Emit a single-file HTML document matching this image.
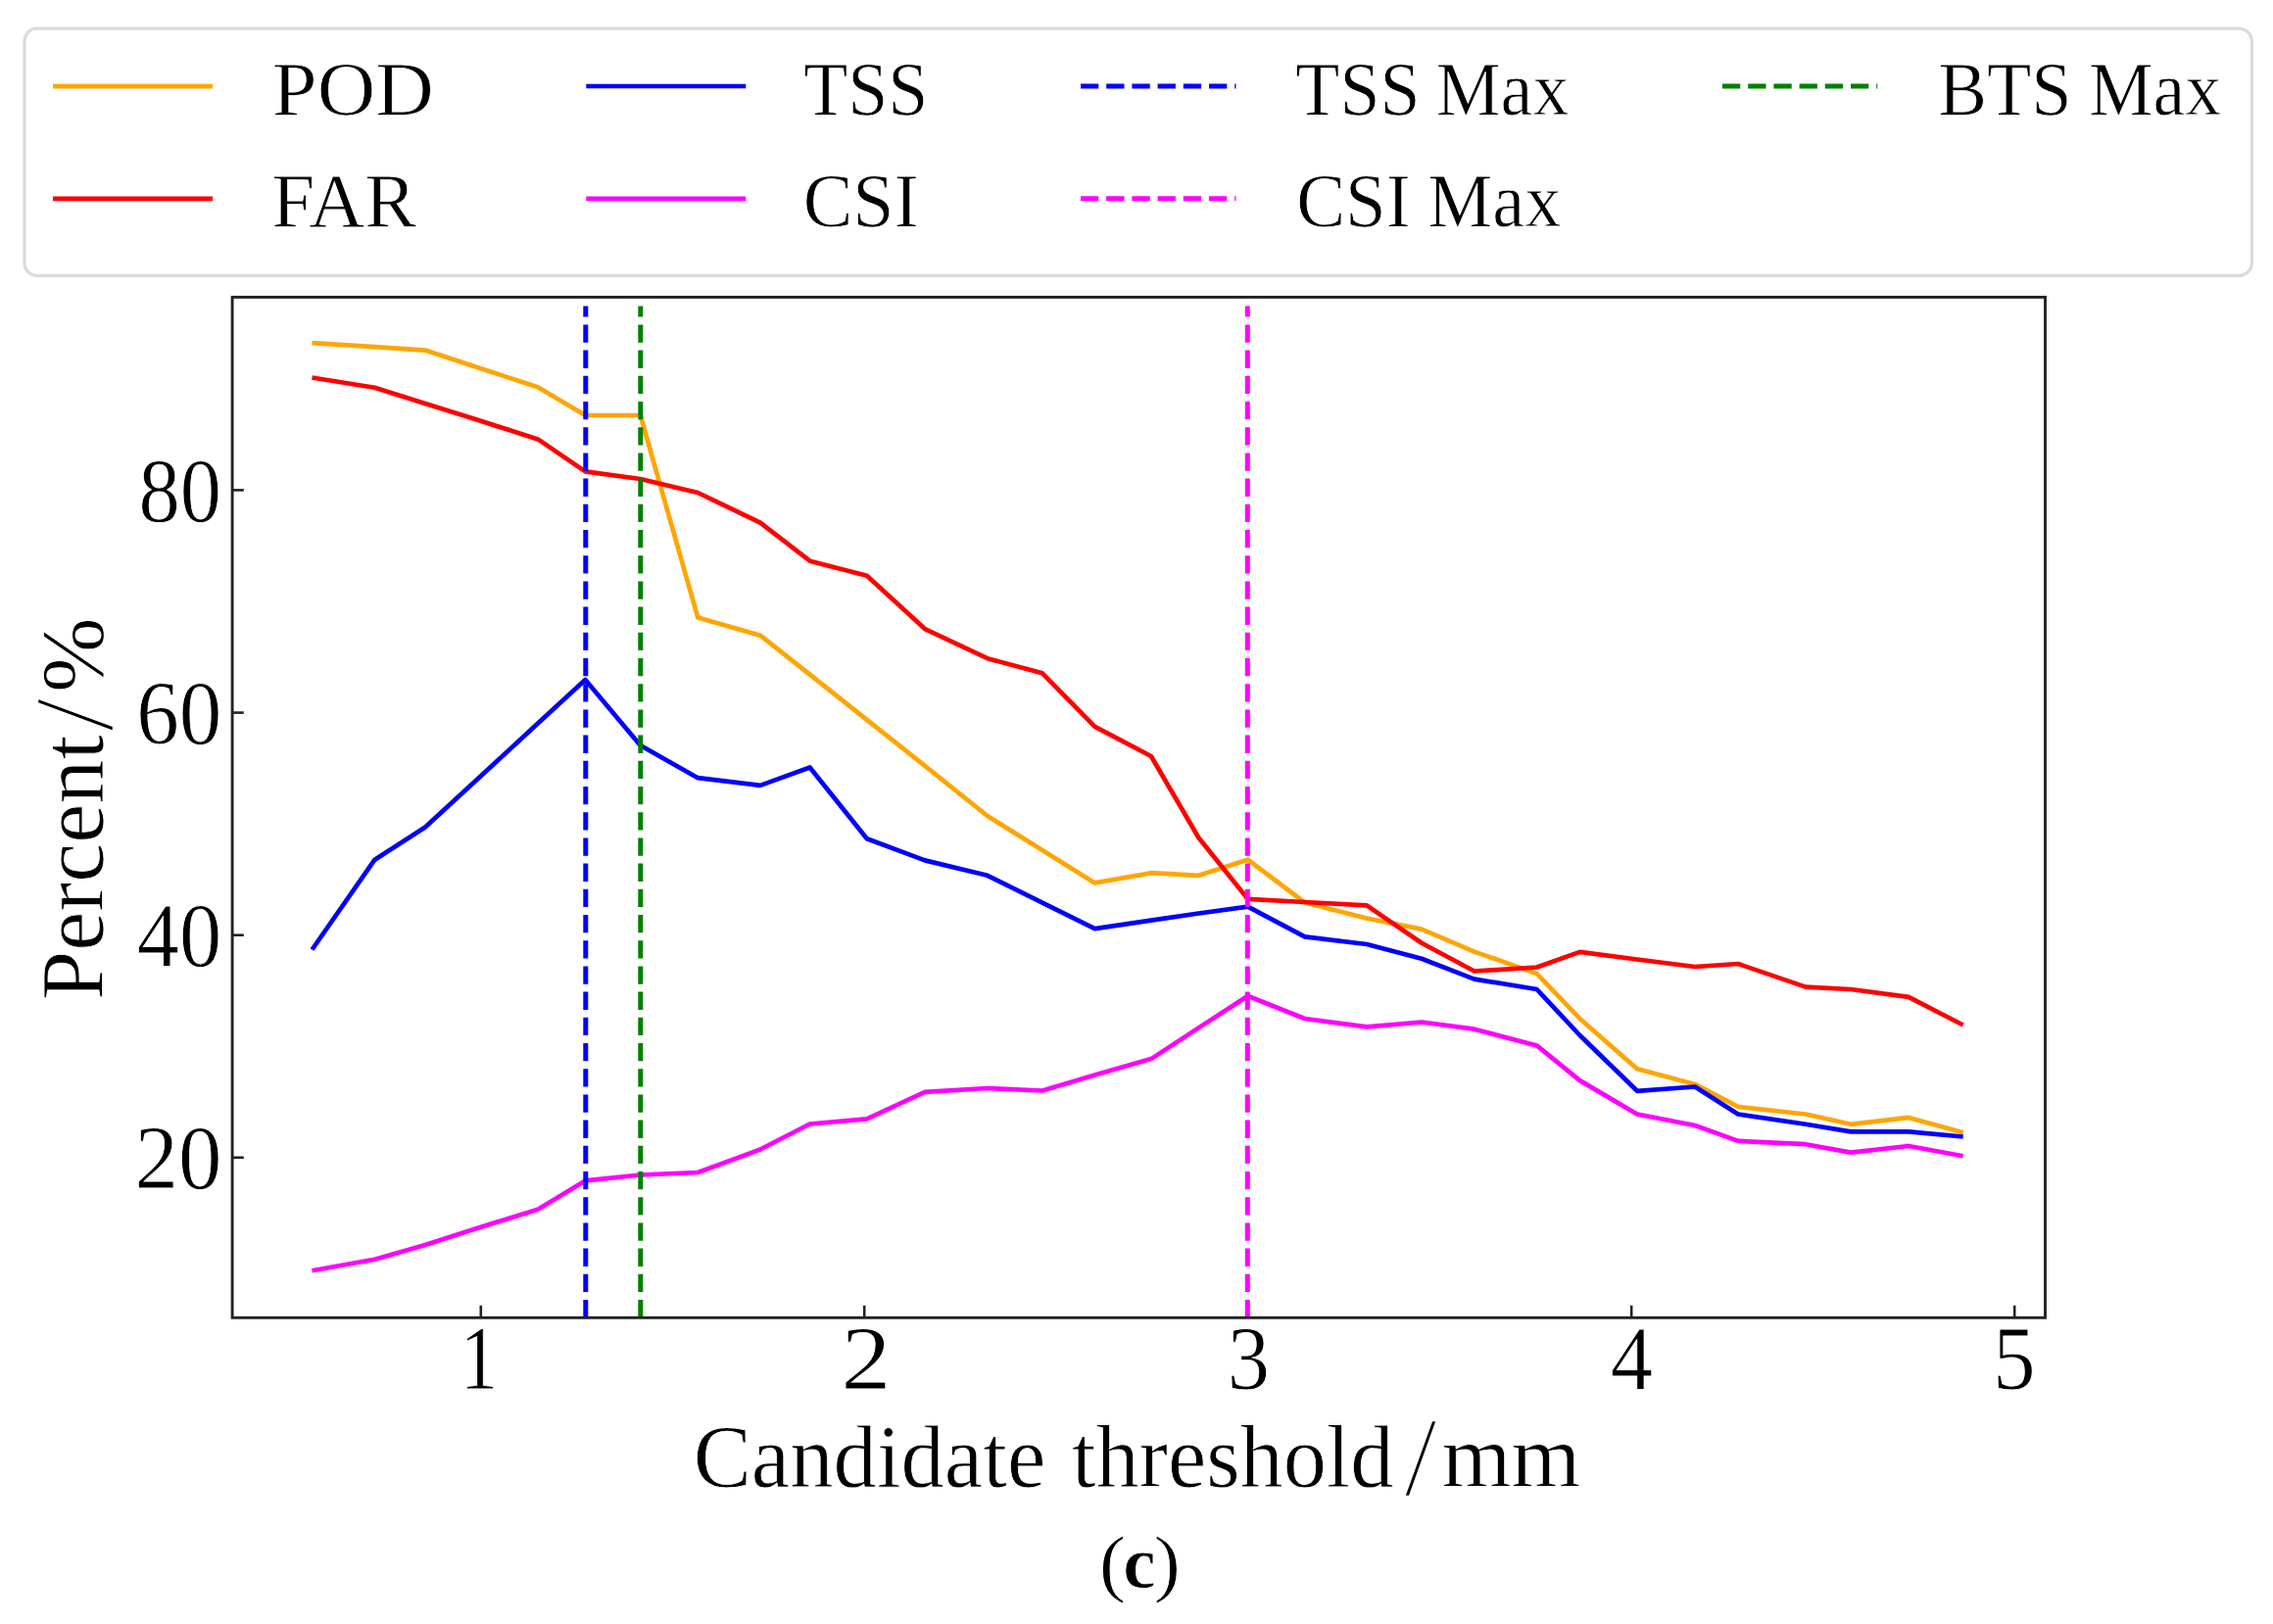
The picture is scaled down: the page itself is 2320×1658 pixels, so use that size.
<!DOCTYPE html>
<html lang="en"><head><meta charset="utf-8"><title>Figure (c)</title>
<style>
html,body{margin:0;padding:0;background:#fff;}
body{width:2320px;height:1658px;overflow:hidden;}
svg{display:block;}
text{font-family:"Liberation Serif","DejaVu Serif",serif;fill:#000;stroke:#fff;stroke-width:0.8;paint-order:fill stroke;}
.ln{fill:none;stroke-width:4.7;stroke-linejoin:round;stroke-linecap:butt;}
.ds{fill:none;stroke-width:5;stroke-dasharray:18.3 7.9;}
.tk{stroke:#222;stroke-width:2.6;}
</style></head><body>
<svg width="2320" height="1658" viewBox="0 0 2320 1658">
<rect x="0" y="0" width="2320" height="1658" fill="#fff"/>
<rect x="25" y="29.1" width="2273.3" height="252.4" rx="13" ry="13" fill="#fff" stroke="#dadada" stroke-width="3.3"/>
<line class="ln" x1="54" y1="88.2" x2="217" y2="88.2" stroke="#ffa500"/>
<line class="ln" x1="54" y1="202.8" x2="217" y2="202.8" stroke="#ff0000"/>
<line class="ln" x1="598.3" y1="88" x2="761.3" y2="88" stroke="#0000ff"/>
<line class="ln" x1="598.3" y1="202.8" x2="761.3" y2="202.8" stroke="#ff00ff"/>
<line class="ds" x1="1103" y1="88" x2="1261.5" y2="88" stroke="#0000ff"/>
<line class="ds" x1="1103" y1="202.8" x2="1261.5" y2="202.8" stroke="#ff00ff"/>
<line class="ds" x1="1758" y1="88" x2="1916.3" y2="88" stroke="#008000"/>
<text y="116.9" font-size="78"><tspan x="277.83" textLength="164.87" lengthAdjust="spacingAndGlyphs">POD</tspan></text>
<text y="230.9" font-size="78"><tspan x="277.21" textLength="147.8" lengthAdjust="spacingAndGlyphs">FAR</tspan></text>
<text y="116.9" font-size="78"><tspan x="820.17" textLength="127.21" lengthAdjust="spacingAndGlyphs">TSS</tspan></text>
<text y="230.9" font-size="78"><tspan x="819.69" textLength="118.08" lengthAdjust="spacingAndGlyphs">CSI</tspan></text>
<text y="116.9" font-size="78"><tspan x="1322.37" textLength="127.11" lengthAdjust="spacingAndGlyphs">TSS</tspan> <tspan x="1465.77" textLength="135.63" lengthAdjust="spacingAndGlyphs">Max</tspan></text>
<text y="230.9" font-size="78"><tspan x="1323.13" textLength="116.5" lengthAdjust="spacingAndGlyphs">CSI</tspan> <tspan x="1457.26" textLength="136.04" lengthAdjust="spacingAndGlyphs">Max</tspan></text>
<text y="116.9" font-size="78"><tspan x="1978.46" textLength="136.14" lengthAdjust="spacingAndGlyphs">BTS</tspan> <tspan x="2132.08" textLength="135.02" lengthAdjust="spacingAndGlyphs">Max</tspan></text>
<line class="tk" x1="490.8" y1="1345.3" x2="490.8" y2="1332.8"/>
<line class="tk" x1="882.2" y1="1345.3" x2="882.2" y2="1332.8"/>
<line class="tk" x1="1273.6" y1="1345.3" x2="1273.6" y2="1332.8"/>
<line class="tk" x1="1665.2" y1="1345.3" x2="1665.2" y2="1332.8"/>
<line class="tk" x1="2056.2" y1="1345.3" x2="2056.2" y2="1332.8"/>
<line class="tk" x1="237.1" y1="500.4" x2="248.8" y2="500.4"/>
<line class="tk" x1="237.1" y1="727.6" x2="248.8" y2="727.6"/>
<line class="tk" x1="237.1" y1="954.7" x2="248.8" y2="954.7"/>
<line class="tk" x1="237.1" y1="1181.8" x2="248.8" y2="1181.8"/>
<polyline class="ln" stroke="#ffa500" points="318.5,350.1 382.5,354.2 434.0,357.6 490.0,376.0 549.0,395.3 597.4,424.0 653.6,424.0 712.3,630.6 776.0,648.7 826.6,688.6 884.8,734.9 944.0,781.8 1007.8,833.0 1063.9,868.0 1117.5,901.4 1174.9,891.2 1223.4,893.8 1273.6,877.7 1331.8,921.5 1395.0,937.5 1451.0,948.6 1504.8,971.6 1568.6,994.0 1612.5,1040.0 1671.0,1091.3 1730.0,1106.9 1774.0,1129.9 1843.0,1137.5 1889.0,1147.8 1948.0,1140.9 2003.7,1156.2"/>
<polyline class="ln" stroke="#ff0000" points="318.5,385.5 382.5,395.7 434.0,412.1 490.0,429.6 549.0,448.4 597.4,481.4 653.6,489.0 712.3,503.0 776.0,533.7 826.6,572.7 884.8,587.8 944.0,642.1 1007.8,672.2 1063.9,687.3 1117.5,741.9 1174.9,772.0 1223.4,855.2 1273.6,917.8 1331.8,921.0 1395.0,924.4 1451.0,962.7 1504.8,991.5 1568.6,987.5 1612.5,971.9 1671.0,979.5 1730.0,987.0 1774.0,984.0 1843.0,1007.6 1889.0,1010.0 1948.0,1017.8 2003.7,1046.5"/>
<polyline class="ln" stroke="#0000ff" points="318.5,969.5 382.5,877.7 434.0,844.5 490.0,793.0 549.0,738.6 597.4,694.0 653.6,761.0 712.3,794.2 776.0,801.9 826.6,783.5 884.8,856.2 944.0,878.4 1007.8,893.8 1063.9,921.6 1117.5,948.1 1174.9,939.7 1223.4,932.5 1273.6,925.7 1331.8,956.3 1395.0,964.0 1451.0,978.7 1504.8,999.6 1568.6,1010.0 1612.5,1057.0 1671.0,1113.8 1730.0,1109.5 1774.0,1137.5 1843.0,1147.7 1889.0,1155.4 1948.0,1155.4 2003.7,1160.5"/>
<polyline class="ln" stroke="#ff00ff" points="318.5,1297.3 382.5,1285.8 434.0,1271.0 490.0,1253.0 549.0,1234.8 597.4,1205.4 653.6,1199.5 712.3,1197.0 776.0,1173.5 826.6,1147.5 884.8,1142.4 944.0,1114.8 1007.8,1111.0 1063.9,1113.5 1117.5,1097.5 1174.9,1081.1 1223.4,1049.4 1273.6,1016.8 1331.8,1040.0 1395.0,1048.3 1451.0,1043.5 1504.8,1050.7 1568.6,1067.4 1612.5,1103.1 1671.0,1137.5 1730.0,1149.0 1774.0,1164.9 1843.0,1168.2 1889.0,1176.6 1948.0,1170.0 2003.7,1180.2"/>
<line class="ds" x1="597.8" y1="1345.3" x2="597.8" y2="312.5" stroke="#0000ff"/>
<line class="ds" x1="653.8" y1="1345.3" x2="653.8" y2="312.5" stroke="#008000"/>
<line class="ds" x1="1273.3" y1="1345.3" x2="1273.3" y2="312.5" stroke="#ff00ff"/>
<rect x="237.1" y="303.4" width="1850.4" height="1041.9" fill="none" stroke="#222" stroke-width="2.9"/>
<text y="531.9" font-size="92.6"><tspan x="141.58" textLength="84.43" lengthAdjust="spacingAndGlyphs">80</tspan></text>
<text y="759.1" font-size="92.6"><tspan x="139.15" textLength="87.17" lengthAdjust="spacingAndGlyphs">60</tspan></text>
<text y="986.2" font-size="92.6"><tspan x="139.81" textLength="86.48" lengthAdjust="spacingAndGlyphs">40</tspan></text>
<text y="1213.3" font-size="92.6"><tspan x="137.59" textLength="88.89" lengthAdjust="spacingAndGlyphs">20</tspan></text>
<text y="1418" font-size="92.6"><tspan x="469.76" textLength="38.35" lengthAdjust="spacingAndGlyphs">1</tspan></text>
<text y="1418" font-size="92.6"><tspan x="858.62" textLength="51.01" lengthAdjust="spacingAndGlyphs">2</tspan></text>
<text y="1418" font-size="92.6"><tspan x="1252.76" textLength="43.21" lengthAdjust="spacingAndGlyphs">3</tspan></text>
<text y="1418" font-size="92.6"><tspan x="1643.81" textLength="43.35" lengthAdjust="spacingAndGlyphs">4</tspan></text>
<text y="1418" font-size="92.6"><tspan x="2034.04" textLength="43.57" lengthAdjust="spacingAndGlyphs">5</tspan></text>
<text y="1517.5" font-size="92"><tspan x="707.66" textLength="359.61" lengthAdjust="spacingAndGlyphs">Candidate</tspan> <tspan x="1093.94" textLength="328.54" lengthAdjust="spacingAndGlyphs">threshold</tspan><tspan x="1432.9" textLength="34.0" lengthAdjust="spacingAndGlyphs" font-size="116.5" dy="9.2" stroke-width="2.4">/</tspan><tspan x="1471.79" textLength="141.43" lengthAdjust="spacingAndGlyphs" dy="-9.2">mm</tspan></text>
<g transform="rotate(-90)"><text y="105.3" font-size="92"><tspan x="-1021.0" textLength="270.53" lengthAdjust="spacingAndGlyphs">Percent</tspan><tspan x="-747.2" textLength="35.1" lengthAdjust="spacingAndGlyphs" font-size="116.5" dy="9.7" stroke-width="2.4">/</tspan><tspan x="-706.94" textLength="76.48" lengthAdjust="spacingAndGlyphs" dy="-9.7">%</tspan></text>
</g>
<text y="1621.3" font-size="75.2"><tspan x="1121.79" textLength="27.36" lengthAdjust="spacingAndGlyphs">(</tspan><tspan x="1146.33" textLength="33.34" lengthAdjust="spacingAndGlyphs" font-weight="bold">c</tspan><tspan x="1177.64" textLength="27.49" lengthAdjust="spacingAndGlyphs">)</tspan></text>
</svg>
</body></html>
